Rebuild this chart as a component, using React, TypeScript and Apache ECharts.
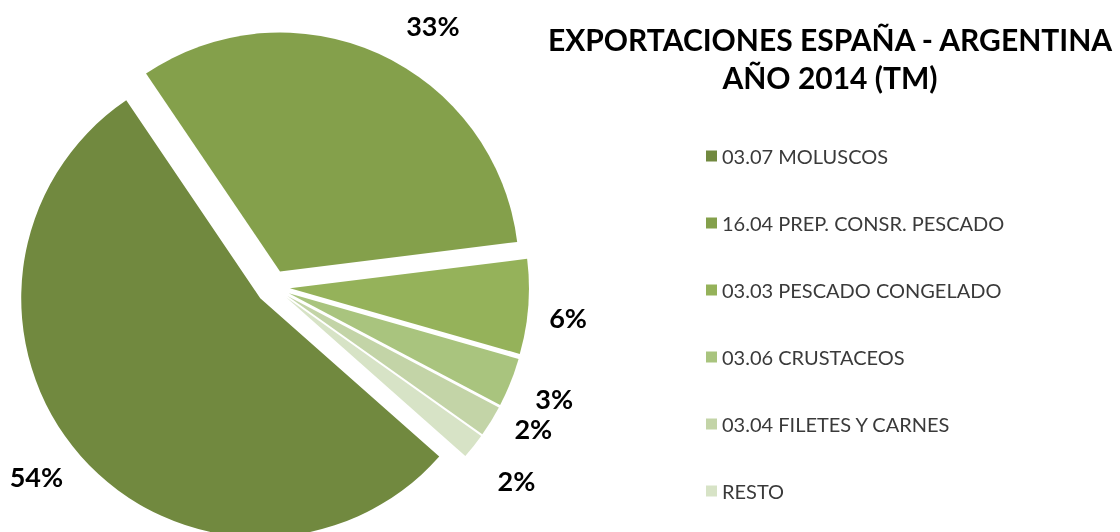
import React, { useEffect, useRef } from "react";
import * as echarts from "echarts";

const categories = [
  "03.07 MOLUSCOS",
  "16.04 PREP. CONSR. PESCADO",
  "03.03 PESCADO CONGELADO",
  "03.06 CRUSTACEOS",
  "03.04 FILETES Y CARNES",
  "RESTO",
];
const shares = [54.0, 32.5, 6.4, 3.3, 2.1, 1.7];
const colors = ["#71893F", "#84A04B", "#95B25A", "#A9C47E", "#C3D4A7", "#D7E3C6"];
const titleLines = ["EXPORTACIONES ESPAÑA - ARGENTINA", "AÑO 2014 (TM)"];
// small manual label nudges (px) that mimic the source's overlap resolution
const labelNudge = [
  [-4, -5],
  [20, 2],
  [3, -4],
  [8, -4],
  [8, -16],
  [10, 10],
];

const CX = 273;
const CY = 287;
const R = 239;
const EXPLODE = 17;
const LABEL_GAP = 18;
const START_CW_FROM_TOP = 131.5; // degrees clockwise from 12 o'clock

export default function App() {
  const ref = useRef<HTMLDivElement>(null);
  useEffect(() => {
    if (!ref.current) return;
    const chart = echarts.init(ref.current, null, { renderer: "svg" });
    const total = shares.reduce((a, b) => a + b, 0);
    const midAngles: number[] = [];
    let acc = 0;
    shares.forEach((v) => {
      const a0 = START_CW_FROM_TOP + (acc / total) * 360;
      acc += v;
      const a1 = START_CW_FROM_TOP + (acc / total) * 360;
      midAngles.push(((a0 + a1) / 2) * (Math.PI / 180));
    });
    const labelFont = {
      fontFamily: "Lato",
      fontSize: 27,
      fontWeight: "bold" as const,
      color: "#000",
    };
    chart.setOption({
      animation: false,
      title: {
        text: titleLines.join("\n"),
        left: 825,
        top: 15,
        textAlign: "center",
        textStyle: {
          fontFamily: "Lato",
          fontSize: 30,
          fontWeight: "bold",
          color: "#000",
          lineHeight: 38,
        },
      },
      legend: {
        orient: "vertical",
        left: 701,
        top: 141,
        itemWidth: 11,
        itemHeight: 11,
        itemGap: 47,
        icon: "rect",
        selectedMode: false,
        data: categories,
        textStyle: {
          fontFamily: "Lato",
          fontSize: 20,
          color: "#3A3A3A",
        },
      },
      series: [
        {
          type: "pie",
          center: [CX, CY],
          radius: R,
          startAngle: 90 - START_CW_FROM_TOP,
          clockwise: true,
          selectedMode: "multiple",
          selectedOffset: EXPLODE,
          silent: true,
          emphasis: { disabled: true },
          label: { show: false },
          labelLine: { show: false },
          data: categories.map((name, i) => ({
            name,
            value: shares[i],
            selected: true,
            itemStyle: { color: colors[i], borderWidth: 0 },
            select: { itemStyle: { color: colors[i], borderWidth: 0 } },
          })),
        },
        {
          type: "pie",
          center: [CX, CY],
          radius: [R, R + 1],
          startAngle: 90 - START_CW_FROM_TOP,
          clockwise: true,
          silent: true,
          avoidLabelOverlap: false,
          percentPrecision: 0,
          emphasis: { disabled: true },
          itemStyle: { color: "rgba(0,0,0,0)", borderWidth: 0 },
          label: {
            show: true,
            position: "inside",
            formatter: "{d}%",
            ...labelFont,
          },
          labelLine: { show: false },
          labelLayout: (params: any) => {
            const i = params.dataIndex;
            const a = midAngles[i];
            const ux = Math.sin(a);
            const uy = -Math.cos(a);
            const w = params.labelRect.width;
            const h = params.labelRect.height;
            const d = EXPLODE + R + LABEL_GAP;
            const px = CX + d * ux;
            const py = CY + d * uy;
            const cx = px + (ux >= 0 ? 1 : -1) * (w / 2);
            const cy = py + (uy >= 0 ? 1 : -1) * (h / 2);
            return {
              x: cx + labelNudge[i][0],
              y: cy + labelNudge[i][1],
              align: "center",
              verticalAlign: "middle",
            };
          },
          data: categories.map((name, i) => ({ name, value: shares[i] })),
        },
      ],
    });
    return () => chart.dispose();
  }, []);
  return (
    <div
      ref={ref}
      style={{ position: "fixed", left: 0, top: 0, width: 1120, height: 532 }}
    />
  );
}
